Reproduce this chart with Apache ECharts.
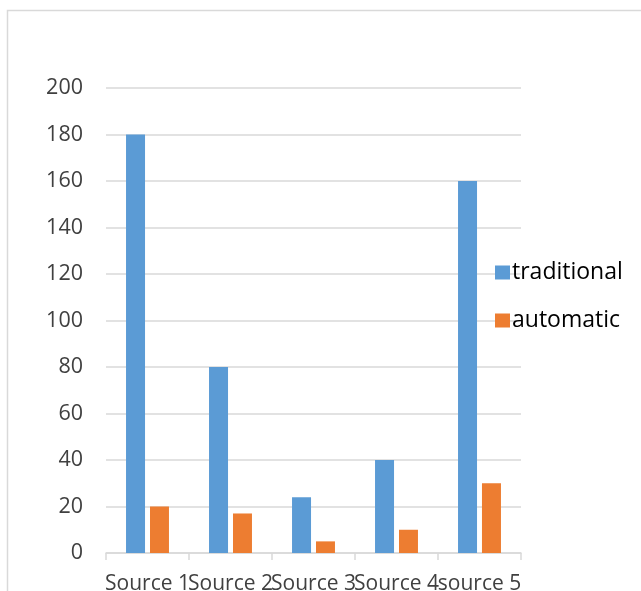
<!DOCTYPE html>
<html><head><meta charset="utf-8">
<script src="https://cdn.jsdelivr.net/npm/echarts@6/dist/echarts.min.js"></script>
<style>html,body{margin:0;padding:0;background:#fff}#c{width:641px;height:591px}</style>
</head><body><div id="c"></div>
<script>
const categories = ['Source 1', 'Source 2', 'Source 3', 'Source 4', 'source 5'];
const traditional = [180, 80, 24, 40, 160];
const automatic = [20, 17, 5, 10, 30];
const yTicks = [0, 20, 40, 60, 80, 100, 120, 140, 160, 180, 200];

const FONT = '"Open Sans", "Noto Sans", sans-serif';
const TXT = '#404040';
const chart = echarts.init(document.getElementById('c'), null, {renderer: 'canvas'});
chart.setOption({
  animation: false,
  textStyle: {fontFamily: FONT},
  graphic: [{type: 'rect', shape: {x: 7.5, y: 10.5, width: 800, height: 800}, style: {fill: 'none', stroke: '#d9d9d9', lineWidth: 1.5}, z: -1}],
  grid: {left: 106, right: 120, top: 88, bottom: 38, containLabel: false, outerBoundsMode: 'none'},
  legend: {
    orient: 'vertical', left: 490, top: 256, itemWidth: 15, itemHeight: 14, itemGap: 25,
    icon: 'rect',
    textStyle: {fontFamily: FONT, fontSize: 23, color: '#000', padding: [0, 0, 0, -3]},
    data: ['traditional', 'automatic']
  },
  xAxis: {
    type: 'category', data: categories,
    axisLine: {lineStyle: {color: '#d9d9d9', width: 1.5}},
    axisTick: {show: true, length: 7, lineStyle: {color: '#d9d9d9', width: 1.5}},
    axisLabel: {interval: 0, hideOverlap: false, color: TXT, fontSize: 21, fontFamily: FONT, margin: 21}
  },
  yAxis: {
    type: 'value', min: yTicks[0], max: yTicks[yTicks.length - 1], interval: 20,
    axisLine: {show: false}, axisTick: {show: false},
    axisLabel: {color: TXT, fontSize: 21.5, fontFamily: FONT, margin: 23},
    splitLine: {lineStyle: {color: '#d9d9d9', width: 1.5}}
  },
  series: [
    {name: 'traditional', type: 'bar', data: traditional, barWidth: 19, barGap: '26%', itemStyle: {color: '#5B9BD5'}},
    {name: 'automatic', type: 'bar', data: automatic, barWidth: 19, barGap: '26%', itemStyle: {color: '#ED7D31'}}
  ]
});
</script></body></html>
